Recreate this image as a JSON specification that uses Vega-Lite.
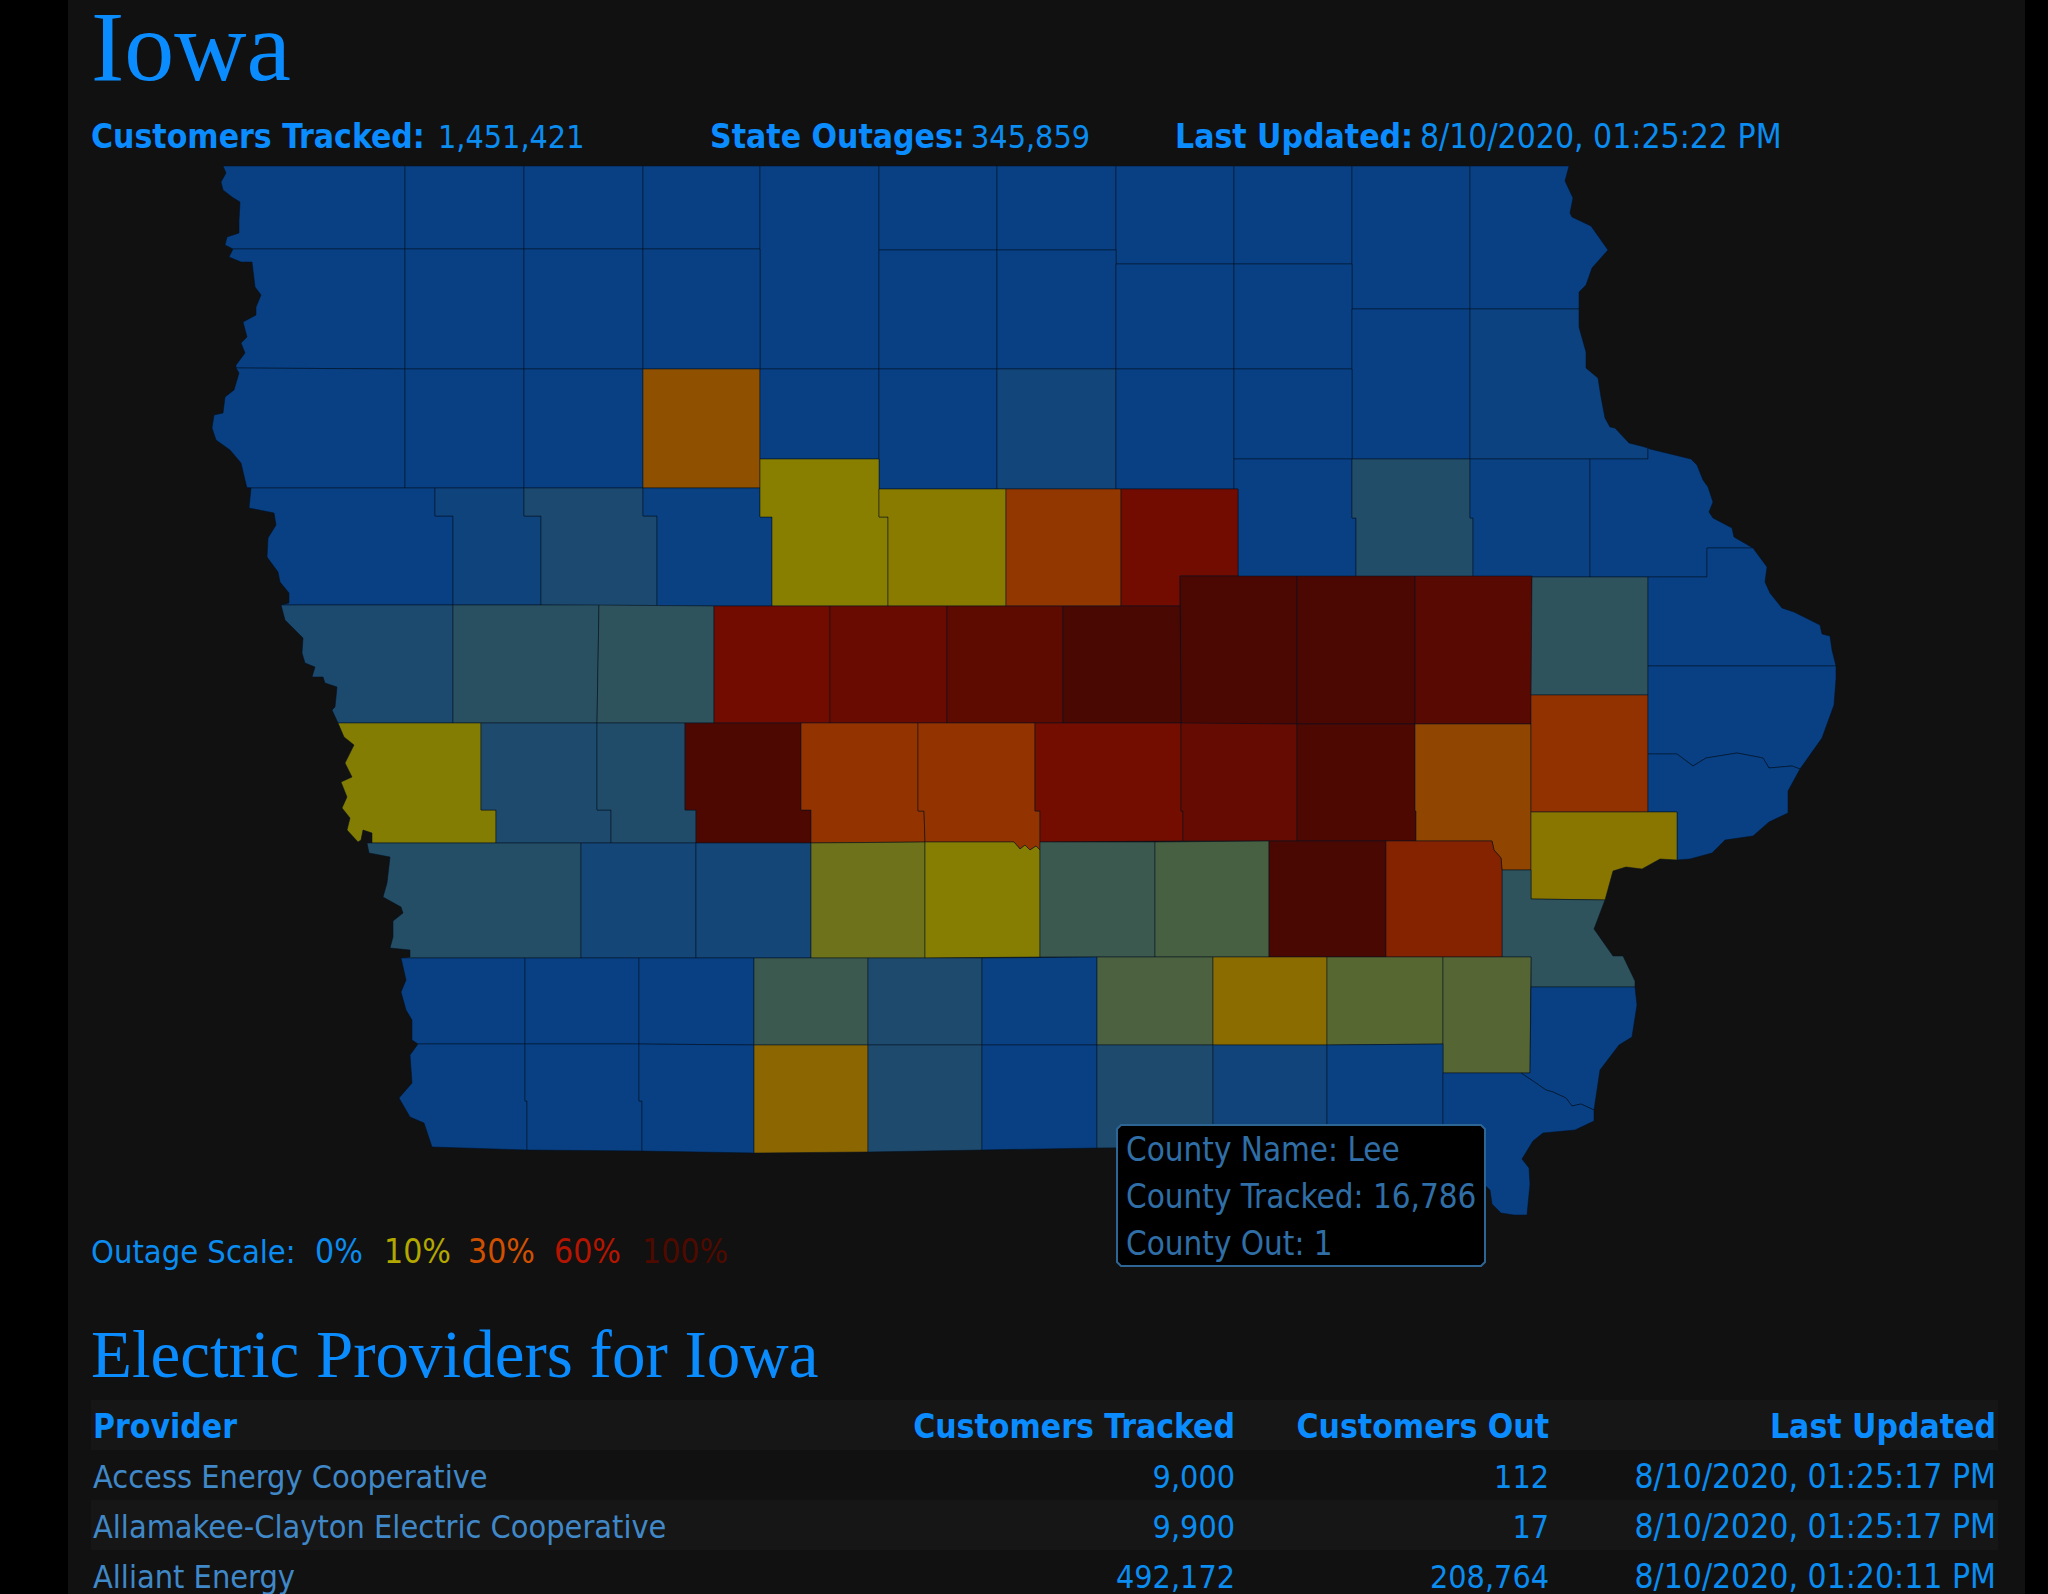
{"$schema":"https://vega.github.io/schema/vega-lite/v6.json","width":2048,"height":1594,"padding":0,"autosize":"none","background":"#000000","config":{"view":{"stroke":null}},"projection":{"type":"identity","scale":1,"translate":[0,0]},
"datasets":{
"panel":[{"part":"page","geo":{"type":"Polygon","coordinates":[[[68,0],[2025,0],[2025,1594],[68,1594],[68,0]]]}}],
"stripes":[{"part":"header","geo":{"type":"Polygon","coordinates":[[[91,1400],[1998,1400],[1998,1450],[91,1450],[91,1400]]]}},{"part":"row2","geo":{"type":"Polygon","coordinates":[[[91,1500],[1998,1500],[1998,1550],[91,1550],[91,1500]]]}}],
"tip":[{"part":"tooltip","geo":{"type":"Polygon","coordinates":[[[1121,1125],[1481,1125],[1485,1129],[1485,1262],[1481,1266],[1121,1266],[1117,1262],[1117,1129],[1121,1125]]]}}],
"counties":[
{"county":"Lyon","pct":0,"geo":{"type":"Polygon","coordinates":[[[223,166],[405,166],[405,249],[233,249],[225,245],[227,237],[239,233],[239,220],[240,202],[232,197],[223,190],[221,182],[226,173],[223,166]]]}},
{"county":"Osceola","pct":0,"geo":{"type":"Polygon","coordinates":[[[405,166],[524,166],[524,249],[405,249],[405,166]]]}},
{"county":"Dickinson","pct":0,"geo":{"type":"Polygon","coordinates":[[[524,166],[643,166],[643,249],[524,249],[524,166]]]}},
{"county":"Emmet","pct":0,"geo":{"type":"Polygon","coordinates":[[[643,166],[760,166],[760,249],[643,249],[643,166]]]}},
{"county":"Kossuth","pct":0,"geo":{"type":"Polygon","coordinates":[[[760,166],[879,166],[879,369],[760,369],[760,166]]]}},
{"county":"Winnebago","pct":0,"geo":{"type":"Polygon","coordinates":[[[879,166],[997,166],[997,250],[879,250],[879,166]]]}},
{"county":"Worth","pct":0,"geo":{"type":"Polygon","coordinates":[[[997,166],[1116,166],[1116,250],[997,250],[997,166]]]}},
{"county":"Mitchell","pct":0,"geo":{"type":"Polygon","coordinates":[[[1116,166],[1234,166],[1234,264],[1116,264],[1116,166]]]}},
{"county":"Howard","pct":0,"geo":{"type":"Polygon","coordinates":[[[1234,166],[1352,166],[1352,264],[1234,264],[1234,166]]]}},
{"county":"Winneshiek","pct":0,"geo":{"type":"Polygon","coordinates":[[[1352,166],[1470,166],[1470,309],[1352,309],[1352,166]]]}},
{"county":"Allamakee","pct":0,"geo":{"type":"Polygon","coordinates":[[[1470,166],[1569,166],[1565,181],[1573,198],[1570,213],[1572,217],[1591,226],[1603,243],[1608,250],[1592,268],[1586,285],[1579,292],[1579,309],[1470,309],[1470,166]]]}},
{"county":"Sioux","pct":0,"geo":{"type":"Polygon","coordinates":[[[233,249],[405,249],[405,369],[236,368],[236,365],[245,353],[241,343],[247,337],[243,322],[256,315],[256,307],[261,295],[255,287],[252,262],[241,262],[229,257],[233,249]]]}},
{"county":"O'Brien","pct":0,"geo":{"type":"Polygon","coordinates":[[[405,249],[524,249],[524,369],[405,369],[405,249]]]}},
{"county":"Clay","pct":0,"geo":{"type":"Polygon","coordinates":[[[524,249],[643,249],[643,369],[524,369],[524,249]]]}},
{"county":"Palo Alto","pct":0,"geo":{"type":"Polygon","coordinates":[[[643,249],[760,249],[760,369],[643,369],[643,249]]]}},
{"county":"Hancock","pct":0,"geo":{"type":"Polygon","coordinates":[[[879,250],[997,250],[997,369],[879,369],[879,250]]]}},
{"county":"Cerro Gordo","pct":0,"geo":{"type":"Polygon","coordinates":[[[997,250],[1116,250],[1116,369],[997,369],[997,250]]]}},
{"county":"Floyd","pct":0,"geo":{"type":"Polygon","coordinates":[[[1116,264],[1234,264],[1234,369],[1116,369],[1116,264]]]}},
{"county":"Chickasaw","pct":0,"geo":{"type":"Polygon","coordinates":[[[1234,264],[1352,264],[1352,369],[1234,369],[1234,264]]]}},
{"county":"Fayette","pct":0,"geo":{"type":"Polygon","coordinates":[[[1352,309],[1470,309],[1470,459],[1352,459],[1352,309]]]}},
{"county":"Clayton","pct":0.3,"geo":{"type":"Polygon","coordinates":[[[1470,309],[1579,309],[1579,327],[1586,352],[1586,368],[1598,378],[1601,397],[1605,418],[1610,427],[1615,428],[1629,443],[1641,446],[1648,448],[1648,459],[1470,459],[1470,309]]]}},
{"county":"Plymouth","pct":0,"geo":{"type":"Polygon","coordinates":[[[236,368],[405,369],[405,488],[247,488],[245,480],[241,463],[230,450],[216,440],[212,428],[214,415],[223,413],[225,397],[234,390],[239,373],[236,368]]]}},
{"county":"Cherokee","pct":0,"geo":{"type":"Polygon","coordinates":[[[405,369],[524,369],[524,488],[405,488],[405,369]]]}},
{"county":"Buena Vista","pct":0,"geo":{"type":"Polygon","coordinates":[[[524,369],[643,369],[643,488],[524,488],[524,369]]]}},
{"county":"Pocahontas","pct":22,"geo":{"type":"Polygon","coordinates":[[[643,369],[760,369],[760,488],[643,488],[643,369]]]}},
{"county":"Humboldt","pct":0,"geo":{"type":"Polygon","coordinates":[[[760,369],[879,369],[879,459],[760,459],[760,369]]]}},
{"county":"Wright","pct":0,"geo":{"type":"Polygon","coordinates":[[[879,369],[997,369],[997,489],[879,489],[879,369]]]}},
{"county":"Franklin","pct":0.8,"geo":{"type":"Polygon","coordinates":[[[997,369],[1116,369],[1116,489],[997,489],[997,369]]]}},
{"county":"Butler","pct":0,"geo":{"type":"Polygon","coordinates":[[[1116,369],[1234,369],[1234,489],[1116,489],[1116,369]]]}},
{"county":"Bremer","pct":0,"geo":{"type":"Polygon","coordinates":[[[1234,369],[1352,369],[1352,459],[1234,459],[1234,369]]]}},
{"county":"Black Hawk","pct":0,"geo":{"type":"Polygon","coordinates":[[[1234,459],[1352,459],[1352,518],[1356,518],[1356,577],[1238,577],[1238,489],[1234,489],[1234,459]]]}},
{"county":"Buchanan","pct":2,"geo":{"type":"Polygon","coordinates":[[[1352,459],[1470,459],[1470,518],[1473,518],[1473,577],[1356,577],[1356,518],[1352,518],[1352,459]]]}},
{"county":"Delaware","pct":0.1,"geo":{"type":"Polygon","coordinates":[[[1470,459],[1590,459],[1590,577],[1473,577],[1473,518],[1470,518],[1470,459]]]}},
{"county":"Dubuque","pct":0,"geo":{"type":"Polygon","coordinates":[[[1590,459],[1648,459],[1648,448],[1650,449],[1691,459],[1697,465],[1703,480],[1708,487],[1713,502],[1709,512],[1713,518],[1732,528],[1734,537],[1753,548],[1707,548],[1707,577],[1590,577],[1590,459]]]}},
{"county":"Woodbury","pct":0,"geo":{"type":"Polygon","coordinates":[[[247,488],[435,488],[435,516],[453,516],[453,605],[281,605],[289,603],[289,593],[280,582],[278,572],[267,557],[268,538],[276,525],[274,513],[249,508],[251,488],[247,488]]]}},
{"county":"Ida","pct":0.5,"geo":{"type":"Polygon","coordinates":[[[435,488],[524,488],[524,516],[541,516],[541,605],[453,605],[453,516],[435,516],[435,488]]]}},
{"county":"Sac","pct":1.5,"geo":{"type":"Polygon","coordinates":[[[524,488],[643,488],[643,516],[657,516],[657,606],[541,605],[541,516],[524,516],[524,488]]]}},
{"county":"Calhoun","pct":0.1,"geo":{"type":"Polygon","coordinates":[[[643,488],[760,488],[760,517],[772,517],[772,606],[657,606],[657,516],[643,516],[643,488]]]}},
{"county":"Webster","pct":10,"geo":{"type":"Polygon","coordinates":[[[760,459],[879,459],[879,517],[888,517],[888,606],[772,606],[772,517],[760,517],[760,459]]]}},
{"county":"Hamilton","pct":11,"geo":{"type":"Polygon","coordinates":[[[879,489],[1006,489],[1006,606],[888,606],[888,517],[879,517],[879,489]]]}},
{"county":"Hardin","pct":29,"geo":{"type":"Polygon","coordinates":[[[1006,489],[1121,489],[1121,606],[1006,606],[1006,489]]]}},
{"county":"Grundy","pct":60,"geo":{"type":"Polygon","coordinates":[[[1121,489],[1238,489],[1238,576],[1180,576],[1180,606],[1121,606],[1121,489]]]}},
{"county":"Tama","pct":95,"geo":{"type":"Polygon","coordinates":[[[1180,576],[1297,576],[1297,724],[1181,724],[1180,576]]]}},
{"county":"Benton","pct":95,"geo":{"type":"Polygon","coordinates":[[[1297,576],[1415,576],[1415,724],[1297,724],[1297,576]]]}},
{"county":"Linn","pct":84,"geo":{"type":"Polygon","coordinates":[[[1415,576],[1532,576],[1531,724],[1415,724],[1415,576]]]}},
{"county":"Jones","pct":3,"geo":{"type":"Polygon","coordinates":[[[1532,577],[1648,577],[1648,695],[1531,695],[1532,577]]]}},
{"county":"Jackson","pct":0,"geo":{"type":"Polygon","coordinates":[[[1648,577],[1707,577],[1707,548],[1753,548],[1767,567],[1765,582],[1770,593],[1782,608],[1794,612],[1820,625],[1822,634],[1830,636],[1832,650],[1836,666],[1648,666],[1648,577]]]}},
{"county":"Monona","pct":1.6,"geo":{"type":"Polygon","coordinates":[[[281,605],[453,605],[453,723],[338,723],[332,710],[335,707],[337,687],[325,683],[323,677],[312,677],[315,667],[305,663],[302,653],[303,638],[285,620],[281,605]]]}},
{"county":"Crawford","pct":2.6,"geo":{"type":"Polygon","coordinates":[[[453,605],[599,605],[597,723],[453,723],[453,605]]]}},
{"county":"Carroll","pct":3,"geo":{"type":"Polygon","coordinates":[[[599,605],[714,606],[714,723],[597,723],[599,605]]]}},
{"county":"Greene","pct":60,"geo":{"type":"Polygon","coordinates":[[[714,606],[830,606],[830,723],[714,723],[714,606]]]}},
{"county":"Boone","pct":67,"geo":{"type":"Polygon","coordinates":[[[830,606],[947,606],[947,723],[830,723],[830,606]]]}},
{"county":"Story","pct":79,"geo":{"type":"Polygon","coordinates":[[[947,606],[1063,606],[1063,723],[947,723],[947,606]]]}},
{"county":"Marshall","pct":96,"geo":{"type":"Polygon","coordinates":[[[1063,606],[1180,606],[1181,723],[1063,723],[1063,606]]]}},
{"county":"Harrison","pct":9.7,"geo":{"type":"Polygon","coordinates":[[[338,723],[481,723],[481,810],[496,810],[496,843],[372,843],[372,833],[363,830],[361,840],[358,842],[347,830],[350,818],[342,808],[347,797],[341,782],[352,777],[345,763],[354,745],[344,737],[338,723]]]}},
{"county":"Shelby","pct":1.7,"geo":{"type":"Polygon","coordinates":[[[481,723],[597,723],[597,810],[611,810],[611,843],[496,843],[496,810],[481,810],[481,723]]]}},
{"county":"Audubon","pct":1.9,"geo":{"type":"Polygon","coordinates":[[[597,723],[685,723],[685,810],[696,810],[696,843],[611,843],[611,810],[597,810],[597,723]]]}},
{"county":"Guthrie","pct":92,"geo":{"type":"Polygon","coordinates":[[[685,723],[801,723],[801,810],[811,810],[811,843],[696,843],[696,810],[685,810],[685,723]]]}},
{"county":"Dallas","pct":30,"geo":{"type":"Polygon","coordinates":[[[801,723],[918,723],[918,811],[924,811],[925,842],[811,843],[811,810],[801,810],[801,723]]]}},
{"county":"Polk","pct":30,"geo":{"type":"Polygon","coordinates":[[[918,723],[1035,723],[1035,811],[1040,811],[1040,850],[1036,846],[1030,850],[1025,845],[1020,849],[1014,842],[925,842],[924,811],[918,811],[918,723]]]}},
{"county":"Jasper","pct":59,"geo":{"type":"Polygon","coordinates":[[[1035,723],[1181,723],[1181,811],[1183,811],[1183,841],[1040,842],[1040,811],[1035,811],[1035,723]]]}},
{"county":"Poweshiek","pct":71,"geo":{"type":"Polygon","coordinates":[[[1181,723],[1297,724],[1297,841],[1183,841],[1183,811],[1181,811],[1181,723]]]}},
{"county":"Iowa","pct":93,"geo":{"type":"Polygon","coordinates":[[[1297,724],[1415,724],[1415,811],[1416,811],[1416,841],[1297,841],[1297,724]]]}},
{"county":"Johnson","pct":25,"geo":{"type":"Polygon","coordinates":[[[1415,724],[1531,724],[1531,870],[1502,870],[1501,858],[1494,850],[1492,841],[1416,841],[1416,811],[1415,811],[1415,724]]]}},
{"county":"Cedar","pct":31,"geo":{"type":"Polygon","coordinates":[[[1531,695],[1648,695],[1648,812],[1531,812],[1531,695]]]}},
{"county":"Clinton","pct":0,"geo":{"type":"Polygon","coordinates":[[[1648,666],[1836,666],[1836,679],[1834,705],[1822,738],[1800,769],[1792,766],[1769,768],[1763,758],[1737,753],[1706,758],[1693,766],[1677,754],[1648,754],[1648,666]]]}},
{"county":"Scott","pct":0,"geo":{"type":"Polygon","coordinates":[[[1648,754],[1677,754],[1693,766],[1706,758],[1737,753],[1763,758],[1769,768],[1792,766],[1800,769],[1788,791],[1788,813],[1769,822],[1753,836],[1725,840],[1712,853],[1690,859],[1677,860],[1677,812],[1648,812],[1648,754]]]}},
{"county":"Muscatine","pct":12.5,"geo":{"type":"Polygon","coordinates":[[[1531,812],[1677,812],[1677,860],[1660,859],[1642,869],[1626,867],[1613,871],[1605,900],[1531,899],[1531,812]]]}},
{"county":"Louisa","pct":3,"geo":{"type":"Polygon","coordinates":[[[1502,870],[1531,870],[1531,899],[1605,900],[1594,929],[1613,956],[1623,956],[1635,981],[1635,987],[1531,987],[1531,957],[1502,957],[1502,870]]]}},
{"county":"Pottawattamie","pct":2.2,"geo":{"type":"Polygon","coordinates":[[[372,843],[581,843],[581,958],[401,958],[410,957],[410,950],[390,948],[393,937],[393,921],[403,913],[401,907],[383,897],[387,883],[390,857],[369,853],[367,843],[372,843]]]}},
{"county":"Cass","pct":0.9,"geo":{"type":"Polygon","coordinates":[[[581,843],[696,843],[696,958],[581,958],[581,843]]]}},
{"county":"Adair","pct":0.9,"geo":{"type":"Polygon","coordinates":[[[696,843],[811,843],[811,958],[696,958],[696,843]]]}},
{"county":"Madison","pct":8,"geo":{"type":"Polygon","coordinates":[[[811,843],[925,842],[925,958],[811,958],[811,843]]]}},
{"county":"Warren","pct":9.8,"geo":{"type":"Polygon","coordinates":[[[925,842],[1014,842],[1020,849],[1025,845],[1030,850],[1036,846],[1040,850],[1040,957],[925,958],[925,842]]]}},
{"county":"Marion","pct":4,"geo":{"type":"Polygon","coordinates":[[[1040,842],[1155,842],[1155,957],[1040,957],[1040,842]]]}},
{"county":"Mahaska","pct":5,"geo":{"type":"Polygon","coordinates":[[[1155,842],[1269,841],[1269,957],[1155,957],[1155,842]]]}},
{"county":"Keokuk","pct":96,"geo":{"type":"Polygon","coordinates":[[[1269,841],[1386,841],[1386,957],[1269,957],[1269,841]]]}},
{"county":"Washington","pct":43,"geo":{"type":"Polygon","coordinates":[[[1386,841],[1492,841],[1494,850],[1501,858],[1502,870],[1502,957],[1386,957],[1386,841]]]}},
{"county":"Mills","pct":0,"geo":{"type":"Polygon","coordinates":[[[401,958],[525,958],[525,1044],[418,1044],[412,1040],[412,1020],[406,1010],[401,992],[406,980],[401,958]]]}},
{"county":"Montgomery","pct":0,"geo":{"type":"Polygon","coordinates":[[[525,958],[639,958],[639,1044],[525,1044],[525,958]]]}},
{"county":"Adams","pct":0,"geo":{"type":"Polygon","coordinates":[[[639,958],[754,958],[754,1045],[639,1044],[639,958]]]}},
{"county":"Union","pct":4,"geo":{"type":"Polygon","coordinates":[[[754,958],[868,958],[868,1045],[754,1045],[754,958]]]}},
{"county":"Clarke","pct":1.7,"geo":{"type":"Polygon","coordinates":[[[868,958],[982,958],[982,1045],[868,1045],[868,958]]]}},
{"county":"Lucas","pct":0.1,"geo":{"type":"Polygon","coordinates":[[[982,958],[1097,957],[1097,1045],[982,1045],[982,958]]]}},
{"county":"Monroe","pct":5.2,"geo":{"type":"Polygon","coordinates":[[[1097,957],[1213,957],[1213,1045],[1097,1045],[1097,957]]]}},
{"county":"Wapello","pct":15,"geo":{"type":"Polygon","coordinates":[[[1213,957],[1327,957],[1327,1045],[1213,1045],[1213,957]]]}},
{"county":"Jefferson","pct":6.2,"geo":{"type":"Polygon","coordinates":[[[1327,957],[1443,957],[1443,1044],[1327,1045],[1327,957]]]}},
{"county":"Henry","pct":6,"geo":{"type":"Polygon","coordinates":[[[1443,957],[1531,957],[1530,1073],[1443,1073],[1443,957]]]}},
{"county":"Des Moines","pct":0,"geo":{"type":"Polygon","coordinates":[[[1531,987],[1635,987],[1637,1005],[1632,1037],[1619,1045],[1600,1070],[1594,1110],[1581,1104],[1572,1106],[1566,1098],[1553,1092],[1546,1090],[1533,1081],[1521,1073],[1530,1073],[1531,987]]]}},
{"county":"Fremont","pct":0,"geo":{"type":"Polygon","coordinates":[[[418,1044],[525,1044],[525,1101],[527,1101],[527,1150],[432,1147],[424,1123],[410,1117],[399,1098],[412,1083],[410,1055],[418,1044]]]}},
{"county":"Page","pct":0,"geo":{"type":"Polygon","coordinates":[[[525,1044],[639,1044],[639,1101],[642,1101],[642,1151],[527,1150],[527,1101],[525,1101],[525,1044]]]}},
{"county":"Taylor","pct":0,"geo":{"type":"Polygon","coordinates":[[[639,1044],[754,1045],[754,1153],[642,1151],[642,1101],[639,1101],[639,1044]]]}},
{"county":"Ringgold","pct":16.5,"geo":{"type":"Polygon","coordinates":[[[754,1045],[868,1045],[868,1152],[754,1153],[754,1045]]]}},
{"county":"Decatur","pct":1.7,"geo":{"type":"Polygon","coordinates":[[[868,1045],[982,1045],[982,1150],[868,1152],[868,1045]]]}},
{"county":"Wayne","pct":0,"geo":{"type":"Polygon","coordinates":[[[982,1045],[1097,1045],[1097,1148],[982,1150],[982,1045]]]}},
{"county":"Appanoose","pct":1.7,"geo":{"type":"Polygon","coordinates":[[[1097,1045],[1213,1045],[1213,1147],[1097,1148],[1097,1045]]]}},
{"county":"Davis","pct":0.7,"geo":{"type":"Polygon","coordinates":[[[1213,1045],[1327,1045],[1327,1147],[1213,1147],[1213,1045]]]}},
{"county":"Van Buren","pct":0.1,"geo":{"type":"Polygon","coordinates":[[[1327,1045],[1443,1044],[1443,1147],[1327,1147],[1327,1045]]]}},
{"county":"Lee","pct":0,"geo":{"type":"Polygon","coordinates":[[[1443,1073],[1521,1073],[1533,1081],[1546,1090],[1553,1092],[1566,1098],[1572,1106],[1581,1104],[1594,1110],[1594,1121],[1575,1130],[1543,1133],[1533,1141],[1522,1159],[1529,1168],[1530,1184],[1527,1215],[1514,1215],[1501,1213],[1492,1204],[1490,1190],[1443,1147],[1443,1073]]]}}
],
"heads":[
{"label":"Customers Tracked:","x":91,"y":148},{"label":"State Outages:","x":710,"y":148},{"label":"Last Updated:","x":1175,"y":148},{"label":"Provider","x":93,"y":1438}
],
"vals":[
{"label":"1,451,421","x":438,"y":148},{"label":"345,859","x":971,"y":148}
],
"stamp":[{"label":"8/10/2020, 01:25:22 PM","x":1420,"y":148}],
"outagelabel":[{"label":"Outage Scale:","x":91,"y":1263}],
"scale":[{"label":"0%","x":315,"y":1263,"level":"a"},{"label":"10%","x":384,"y":1263,"level":"b"},{"label":"30%","x":468,"y":1263,"level":"c"},{"label":"60%","x":554,"y":1263,"level":"d"},{"label":"100%","x":642,"y":1263,"level":"e"}],
"tiptext":[{"label":"County Name: Lee","x":1126,"y":1161},{"label":"County Tracked: 16,786","x":1126,"y":1208},{"label":"County Out: 1","x":1126,"y":1255}],
"colheads":[{"label":"Customers Tracked","x":1235,"y":1438},{"label":"Customers Out","x":1549,"y":1438},{"label":"Last Updated","x":1996,"y":1438}],
"providers":[
{"provider":"Access Energy Cooperative","tracked":9000,"out":112,"updated":"8/10/2020, 01:25:17 PM","line":1488},
{"provider":"Allamakee-Clayton Electric Cooperative","tracked":9900,"out":17,"updated":"8/10/2020, 01:25:17 PM","line":1538},
{"provider":"Alliant Energy","tracked":492172,"out":208764,"updated":"8/10/2020, 01:20:11 PM","line":1588}
]
},
"layer":[
{"data":{"name":"panel"},"mark":{"type":"geoshape","fill":"#111111","stroke":null},"encoding":{"shape":{"field":"geo","type":"geojson"}}},
{"data":{"name":"stripes"},"mark":{"type":"geoshape","fill":"#161616","stroke":null},"encoding":{"shape":{"field":"geo","type":"geojson"}}},
{"data":{"name":"counties"},"mark":{"type":"geoshape","stroke":"#04101f","strokeWidth":0.8,"strokeOpacity":0.65},"encoding":{"shape":{"field":"geo","type":"geojson"},"color":{"field":"pct","type":"quantitative","scale":{"domain":[0,10,30,60,100],"range":["#084083","#887f00","#933300","#720c00","#450703"],"interpolate":"rgb"},"legend":null}}},
{"data":{"name":"tip"},"mark":{"type":"geoshape","fill":"#000000","stroke":"#2d6594","strokeWidth":2},"encoding":{"shape":{"field":"geo","type":"geojson"}}},
{"data":{"values":[{"label":"Iowa","x":91,"y":80}]},"mark":{"type":"text","font":"Liberation Serif","fontSize":100,"align":"left","baseline":"alphabetic","color":"#0a8cff"},"encoding":{"longitude":{"field":"x","type":"quantitative"},"latitude":{"field":"y","type":"quantitative"},"text":{"field":"label"}}},
{"data":{"values":[{"label":"Electric Providers for Iowa","x":91,"y":1377}]},"mark":{"type":"text","font":"Liberation Serif","fontSize":67,"align":"left","baseline":"alphabetic","color":"#0a8cff"},"encoding":{"longitude":{"field":"x","type":"quantitative"},"latitude":{"field":"y","type":"quantitative"},"text":{"field":"label"}}},
{"data":{"name":"heads"},"mark":{"type":"text","font":"DejaVu Sans Condensed, Noto Sans","fontSize":33.4,"fontWeight":"bold","align":"left","baseline":"alphabetic","color":"#0a8cff"},"encoding":{"longitude":{"field":"x","type":"quantitative"},"latitude":{"field":"y","type":"quantitative"},"text":{"field":"label"}}},
{"data":{"name":"vals"},"mark":{"type":"text","font":"DejaVu Sans Condensed, Noto Sans","fontSize":32,"align":"left","baseline":"alphabetic","color":"#0a8cf0"},"encoding":{"longitude":{"field":"x","type":"quantitative"},"latitude":{"field":"y","type":"quantitative"},"text":{"field":"label"}}},
{"data":{"name":"stamp"},"mark":{"type":"text","font":"DejaVu Sans Condensed, Noto Sans","fontSize":33.4,"align":"left","baseline":"alphabetic","color":"#0a8cf0"},"encoding":{"longitude":{"field":"x","type":"quantitative"},"latitude":{"field":"y","type":"quantitative"},"text":{"field":"label"}}},
{"data":{"name":"outagelabel"},"mark":{"type":"text","font":"DejaVu Sans Condensed, Noto Sans","fontSize":32.4,"align":"left","baseline":"alphabetic","color":"#0a8cf0"},"encoding":{"longitude":{"field":"x","type":"quantitative"},"latitude":{"field":"y","type":"quantitative"},"text":{"field":"label"}}},
{"data":{"name":"scale"},"mark":{"type":"text","font":"DejaVu Sans Condensed, Noto Sans","fontSize":33.5,"align":"left","baseline":"alphabetic"},"encoding":{"longitude":{"field":"x","type":"quantitative"},"latitude":{"field":"y","type":"quantitative"},"text":{"field":"label"},"color":{"field":"level","type":"nominal","scale":{"domain":["a","b","c","d","e"],"range":["#0a8cf0","#b3a800","#d05000","#b51500","#4f0a00"]},"legend":null}}},
{"data":{"name":"tiptext"},"mark":{"type":"text","font":"DejaVu Sans Condensed, Noto Sans","fontSize":32.9,"align":"left","baseline":"alphabetic","color":"#2f6ea6"},"encoding":{"longitude":{"field":"x","type":"quantitative"},"latitude":{"field":"y","type":"quantitative"},"text":{"field":"label"}}},
{"data":{"name":"colheads"},"mark":{"type":"text","font":"DejaVu Sans Condensed, Noto Sans","fontSize":33.4,"fontWeight":"bold","align":"right","baseline":"alphabetic","color":"#0a8cff"},"encoding":{"longitude":{"field":"x","type":"quantitative"},"latitude":{"field":"y","type":"quantitative"},"text":{"field":"label"}}},
{"data":{"name":"providers"},"mark":{"type":"text","font":"DejaVu Sans Condensed, Noto Sans","fontSize":32.2,"align":"left","baseline":"alphabetic","color":"#4088c8"},"encoding":{"longitude":{"datum":93},"latitude":{"field":"line","type":"quantitative"},"text":{"field":"provider"}}},
{"data":{"name":"providers"},"mark":{"type":"text","font":"DejaVu Sans Condensed, Noto Sans","fontSize":32,"align":"right","baseline":"alphabetic","color":"#0a8cf0"},"encoding":{"longitude":{"datum":1235},"latitude":{"field":"line","type":"quantitative"},"text":{"field":"tracked","type":"quantitative","format":","}}},
{"data":{"name":"providers"},"mark":{"type":"text","font":"DejaVu Sans Condensed, Noto Sans","fontSize":32,"align":"right","baseline":"alphabetic","color":"#0a8cf0"},"encoding":{"longitude":{"datum":1549},"latitude":{"field":"line","type":"quantitative"},"text":{"field":"out","type":"quantitative","format":","}}},
{"data":{"name":"providers"},"mark":{"type":"text","font":"DejaVu Sans Condensed, Noto Sans","fontSize":33.4,"align":"right","baseline":"alphabetic","color":"#0a8cf0"},"encoding":{"longitude":{"datum":1996},"latitude":{"field":"line","type":"quantitative"},"text":{"field":"updated"}}}
],
"resolve":{"scale":{"color":"independent"}}}
